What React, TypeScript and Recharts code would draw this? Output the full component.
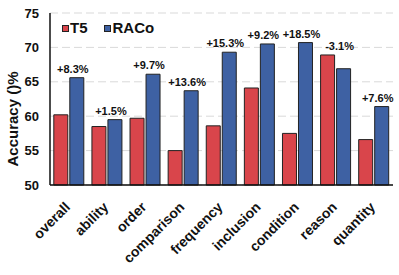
import React from "react";
import {
  ComposedChart,
  Bar,
  Line,
  XAxis,
  YAxis,
  CartesianGrid,
  LabelList,
} from "recharts";

const categories = [
  "overall",
  "ability",
  "order",
  "comparison",
  "frequency",
  "inclusion",
  "condition",
  "reason",
  "quantity",
];
const t5Values = [60.2, 58.5, 59.7, 55.0, 58.6, 64.1, 57.5, 68.9, 56.6];
const racoValues = [65.6, 59.5, 66.1, 63.7, 69.3, 70.5, 70.7, 66.9, 61.4];
const gainLabels = [
  "+8.3%",
  "+1.5%",
  "+9.7%",
  "+13.6%",
  "+15.3%",
  "+9.2%",
  "+18.5%",
  "-3.1%",
  "+7.6%",
];
const yTicks = [50, 55, 60, 65, 70, 75];

const data = categories.map((c, i) => ({
  name: c,
  T5: t5Values[i],
  RACo: racoValues[i],
  gain: gainLabels[i],
}));

const RED = "#d9454b";
const BLUE = "#3e61a3";
const FONT = "'Liberation Sans', Arial, sans-serif";

const makeLabel = (series: "T5" | "RACo") => (props: any) => {
  const { x, y, width, index } = props;
  const t = t5Values[index];
  const r = racoValues[index];
  const show = series === "RACo" ? r >= t : t > r;
  if (!show) return null;
  const cx = series === "RACo" ? x + 3 : x + width + 5;
  return (
    <text
      x={cx}
      y={y - 5}
      textAnchor="middle"
      fontFamily={FONT}
      fontWeight="bold"
      fontSize={11}
      fill="#111"
    >
      {gainLabels[index]}
    </text>
  );
};

const XTick = (props: any) => {
  const { x, y, payload } = props;
  return (
    <g transform={`translate(${x + 2},${y + 21})`}>
      <text
        transform="rotate(-45)"
        textAnchor="end"
        fontFamily={FONT}
        fontWeight="bold"
        fontSize={14}
        fill="#111"
      >
        {payload.value}
      </text>
    </g>
  );
};

const LegendBox = () => (
  <div
    style={{
      position: "absolute",
      left: 62,
      top: 19,
      display: "flex",
      alignItems: "center",
      fontFamily: FONT,
      fontWeight: "bold",
      fontSize: 15,
      lineHeight: "18px",
      color: "#111",
    }}
  >
    <span
      style={{
        width: 5,
        height: 5,
        background: RED,
        border: "1px solid #222",
        display: "inline-block",
        marginRight: 1,
      }}
    />
    <span style={{ marginRight: 16 }}>T5</span>
    <span
      style={{
        width: 5,
        height: 5,
        background: BLUE,
        border: "1px solid #222",
        display: "inline-block",
        marginRight: 2,
      }}
    />
    <span>RACo</span>
  </div>
);

export default function App() {
  return (
    <div
      style={{
        position: "absolute",
        left: 0,
        top: 0,
        width: 399,
        height: 275,
        background: "#fff",
      }}
    >
      <ComposedChart
        width={399}
        height={275}
        data={data}
        margin={{ top: 13, right: 6, bottom: 0, left: 0 }}
        barCategoryGap="10%"
        barGap={2}
      >
        <CartesianGrid
          vertical={false}
          stroke="#d9d9d9"
          strokeDasharray="8 4"
        />
        <XAxis
          dataKey="name"
          height={90}
          tickLine={false}
          tickSize={0}
          interval={0}
          axisLine={{ stroke: "#111", strokeWidth: 1.5 }}
          tick={<XTick />}
        />
        <XAxis
          xAxisId="top"
          orientation="top"
          dataKey="name"
          height={0}
          tick={false}
          tickLine={false}
          axisLine={{ stroke: "#111", strokeWidth: 1.5 }}
        />
        <YAxis
          width={50}
          domain={[50, 75]}
          ticks={yTicks}
          tickLine={false}
          tickSize={0}
          tickMargin={11}
          interval={0}
          axisLine={{ stroke: "#111", strokeWidth: 1.5 }}
          tick={{
            fontFamily: FONT,
            fontWeight: "bold",
            fontSize: 13,
            fill: "#111",
          }}
          label={() => (
            <text
              x={12}
              y={119}
              transform="rotate(-90 12 119)"
              textAnchor="middle"
              dominantBaseline="central"
              fontFamily={FONT}
              fontWeight="bold"
              fontSize={15}
              fill="#111"
            >
              Accuracy ()%
            </text>
          )}
        />
        <YAxis
          yAxisId="right"
          orientation="right"
          width={0}
          domain={[50, 75]}
          ticks={yTicks}
          tick={false}
          tickLine={false}
          axisLine={{ stroke: "#111", strokeWidth: 1.5 }}
        />
        <Bar
          dataKey="T5"
          fill={RED}
          stroke="#222"
          strokeWidth={1}
          isAnimationActive={false}
        >
          <LabelList dataKey="gain" content={makeLabel("T5")} />
        </Bar>
        <Bar
          dataKey="RACo"
          fill={BLUE}
          stroke="#222"
          strokeWidth={1}
          isAnimationActive={false}
        >
          <LabelList dataKey="gain" content={makeLabel("RACo")} />
        </Bar>
        <Line
          xAxisId="top"
          yAxisId="right"
          dataKey="RACo"
          stroke="none"
          dot={false}
          activeDot={false}
          legendType="none"
          isAnimationActive={false}
        />
      </ComposedChart>
      <LegendBox />
    </div>
  );
}
